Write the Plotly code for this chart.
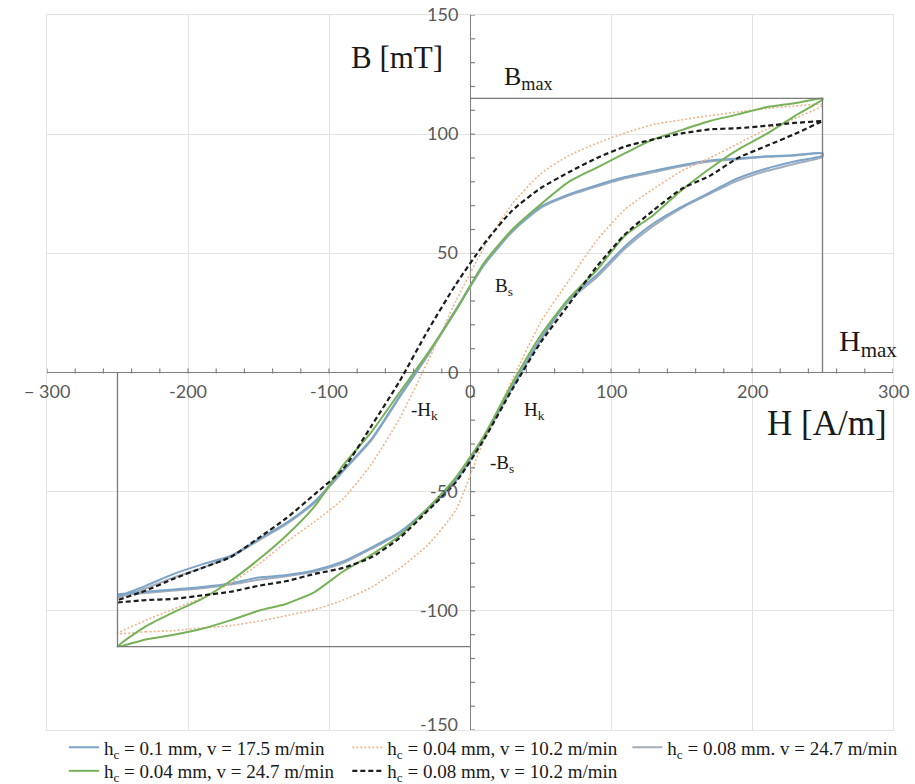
import plotly.graph_objects as go

# Field strength samples H [A/m] shared by every branch
H = [-250, -230, -210, -190, -170, -150, -130, -110, -90, -70, -50, -30, -10,
     10, 30, 50, 70, 90, 110, 130, 150, 170, 190, 210, 230, 250]

# Flux density B [mT]: rising branch (H increasing) and falling branch, both listed in H order
BLUE_RISE = [-93, -92, -91, -90, -88.5, -86, -85, -83, -79.3, -73.5, -67, -57, -45,
             -27, -6, 14, 30.7, 41, 53, 62.5, 69.5, 75.5, 81.5, 85.5, 88.5, 91]
BLUE_FALL = [-94, -89.5, -84.5, -80.5, -77, -70, -63, -54, -41, -28, -10, 7.5, 26.5,
             45.5, 59.5, 69.5, 74.7, 78.6, 82, 84.6, 87, 89, 89.8, 90.7, 91.2, 92]

ORANGE_RISE = [-109.5, -108.8, -108.3, -107.2, -106.2, -104.4, -102, -99.4, -95.5, -90.1, -82.2, -72.4, -57.6,
               -28, -3, 21, 38.5, 55.5, 68.5, 77, 84.5, 90, 96, 102, 106.5, 112]
ORANGE_FALL = [-109.5, -104, -99.2, -94.6, -88.4, -80.5, -71, -62.5, -53, -38.5, -19.3, 4.5, 30,
               52.5, 70.7, 83.3, 91, 96.2, 100.5, 104, 106, 107.8, 109.3, 110.8, 111.8, 112.5]

GRAY_RISE = [-93.5, -92.5, -91.5, -90.5, -89, -87, -85.5, -83.5, -80, -74, -67.5, -57.5, -45.5,
             -27.5, -6.5, 13.5, 30, 40, 52, 61.5, 69, 75, 80.5, 84.5, 87.5, 90.5]
GRAY_FALL = [-94.5, -90.5, -86, -82, -77.5, -70.5, -63.5, -54.5, -41.5, -28.5, -10.5, 7, 26,
             45, 59, 69, 74.2, 78, 81.5, 84, 86.5, 88.5, 89.5, 90.5, 91, 91.8]

GREEN_RISE = [-115, -112, -110, -107.5, -104, -100, -97, -92, -83.5, -76.5, -68.5, -57, -44,
              -26.5, -4.5, 15.5, 31, 43, 57.5, 66, 76.5, 85.5, 93.5, 100, 107.5, 114.5]
GREEN_FALL = [-115, -106.5, -100.5, -95, -87.5, -78.5, -68.3, -56, -39, -25, -8.4, 8, 26,
              46, 60, 70.5, 80, 86, 92, 97.8, 101.7, 105.5, 108.3, 111.3, 113, 115]

BLACK_RISE = [-96.5, -95.5, -95, -93.5, -92, -89.5, -87.5, -84.5, -82, -77.5, -69.5, -58, -46,
              -28, -7, 12.5, 28.5, 44.5, 58, 68, 77, 82.5, 90, 95, 100, 105.5]
BLACK_FALL = [-95.5, -91.5, -86.5, -82, -77.5, -69.5, -61, -51, -40.5, -22.5, -3.7, 17.5, 37,
              54, 68, 77.3, 84, 90, 94.8, 97.8, 100.3, 102, 102.5, 103.5, 104.7, 105.5]

# Peak excitation and induction marking the loop corners
H_MAX = 250
B_MAX = 115

X_TICKS = [-300, -200, -100, 0, 100, 200, 300]
X_TICK_TEXT = ["\u2212 300", "-200", "-100", "0", "100", "200", "300"]
Y_TICKS = [150, 100, 50, 0, -50, -100, -150]
Y_TICK_TEXT = ["150", "100", "50", "0", "-50", "-100", "-150"]

SERIES = [
    # name, rising, falling, colour, width, dash, legend slot
    ("h<sub>c</sub> = 0.08 mm. v = 24.7 m/min", GRAY_RISE, GRAY_FALL, "#a3adb9", 2.0, "solid", "legend3"),
    ("h<sub>c</sub> = 0.1 mm, v = 17.5 m/min", BLUE_RISE, BLUE_FALL, "#7ba4c9", 2.0, "solid", "legend"),
    ("h<sub>c</sub> = 0.04 mm, v = 10.2 m/min", ORANGE_RISE, ORANGE_FALL, "#f0b48c", 1.6, "2px,2px", "legend2"),
    ("h<sub>c</sub> = 0.04 mm, v = 24.7 m/min", GREEN_RISE, GREEN_FALL, "#77b258", 2.0, "solid", "legend4"),
    ("h<sub>c</sub> = 0.08 mm, v = 10.2 m/min", BLACK_RISE, BLACK_FALL, "#1c1c1c", 2.2, "5px,3px", "legend5"),
]

fig = go.Figure()

for name, rise, fall, colour, width, dash, leg in SERIES:
    fig.add_trace(go.Scatter(
        x=H + H[::-1], y=rise + fall[::-1],
        mode="lines", name=name, legend=leg,
        line=dict(color=colour, width=width, dash=dash, shape="spline", smoothing=0.6),
    ))

# Bmax / Hmax corner lines
fig.add_trace(go.Scatter(
    x=[0, H_MAX, H_MAX, None, -H_MAX, -H_MAX, 0],
    y=[B_MAX, B_MAX, 0, None, 0, -B_MAX, -B_MAX],
    mode="lines", line=dict(color="#7a7a7a", width=1.3),
    showlegend=False, hoverinfo="skip",
))

TICK_FONT = dict(family="Lato, Liberation Sans, sans-serif", size=18, color="#595959")
SERIF = "Liberation Serif, Times New Roman, serif"

annotations = []
for v, t in zip(X_TICKS, X_TICK_TEXT):
    annotations.append(dict(x=v, y=0, text=t, showarrow=False, xanchor="center",
                            yanchor="middle", yshift=-18, font=TICK_FONT))
for v, t in zip(Y_TICKS, Y_TICK_TEXT):
    # the lowest label sits just above the legend, so lift it clear
    lift = 6 if v == Y_TICKS[-1] else 1
    annotations.append(dict(x=0, y=v, text=t, showarrow=False, xanchor="right",
                            yanchor="middle", xshift=-10, yshift=lift, font=TICK_FONT))

labels = [
    ("B [mT]", -52, 132, "center", 31),
    ("B<sub>max</sub>", 23, 123.5, "left", 26),
    ("H<sub>max</sub>", 260, 12.5, "left", 30),
    ("H [A/m]", 209, -21.5, "left", 35),
    ("B<sub>s</sub>", 16, 36, "left", 19),
    ("H<sub>k</sub>", 37, -16, "left", 19),
    ("-H<sub>k</sub>", -43, -16, "left", 19),
    ("-B<sub>s</sub>", 13, -38.5, "left", 19),
]
for text, x, y, anchor, size in labels:
    annotations.append(dict(x=x, y=y, text=text, showarrow=False, xanchor=anchor,
                            yanchor="middle", font=dict(family=SERIF, size=size, color="#1a1a1a")))

shapes = []
for v in range(-300, 301, 20):
    shapes.append(dict(type="line", xref="x", yref="y", ysizemode="pixel", yanchor=0,
                       x0=v, x1=v, y0=-1, y1=4, line=dict(color="#808080", width=1.2)))
for v in range(-150, 151, 10):
    shapes.append(dict(type="line", xref="x", yref="y", xsizemode="pixel", xanchor=0,
                       x0=0, x1=5, y0=v, y1=v, line=dict(color="#808080", width=1.2)))

LEGEND_FONT = dict(family=SERIF, size=19, color="#1a1a1a")
legend_pos = {
    "legend": (0.020, -0.0245),
    "legend2": (0.355, -0.0245),
    "legend3": (0.686, -0.0245),
    "legend4": (0.020, -0.0573),
    "legend5": (0.355, -0.0573),
}
layout_legends = {}
for key, (lx, ly) in legend_pos.items():
    layout_legends[key] = dict(x=lx, y=ly, xanchor="left", yanchor="middle",
                               font=LEGEND_FONT, bgcolor="rgba(0,0,0,0)",
                               itemwidth=30, borderwidth=0)

fig.update_layout(
    width=915, height=784,
    margin=dict(l=47, r=22, t=15, b=54, autoexpand=False),
    paper_bgcolor="white", plot_bgcolor="white",
    xaxis=dict(range=[-300, 300], dtick=100, showgrid=True, gridcolor="#e3e3e3", gridwidth=1,
               zeroline=True, zerolinecolor="#808080", zerolinewidth=1.3,
               showticklabels=False, ticks="", showline=True, mirror=True, linecolor="#e3e3e3"),
    yaxis=dict(range=[-150, 150], dtick=50, showgrid=True, gridcolor="#e3e3e3", gridwidth=1,
               zeroline=True, zerolinecolor="#808080", zerolinewidth=1.3,
               showticklabels=False, ticks="", showline=True, mirror=True, linecolor="#e3e3e3"),
    annotations=annotations,
    shapes=shapes,
    showlegend=True,
    **layout_legends,
)

fig.write_html("out.html")
